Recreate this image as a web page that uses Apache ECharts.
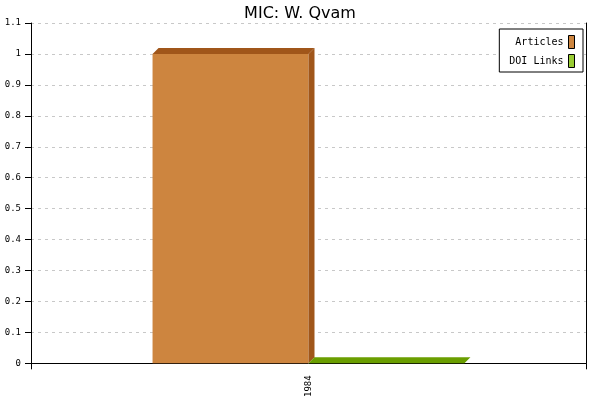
<!DOCTYPE html>
<html><head><meta charset="utf-8">
<script src="https://cdn.jsdelivr.net/npm/echarts@6/dist/echarts.min.js"></script>
<style>html,body{margin:0;padding:0;background:#fff}#c{width:600px;height:400px}</style>
</head><body><div id="c"></div>
<script>
var categories = ['1984'];
var articles = [1];
var doiLinks = [0];
var yTicks = [0, 0.1, 0.2, 0.3, 0.4, 0.5, 0.6, 0.7, 0.8, 0.9, 1, 1.1];

var chart = echarts.init(document.getElementById('c'));
var DEPTH = 6;
function make3d(frontColor, sideColor, topColor, offsetIdx) {
  return function (params, api) {
    var c = api.coord([api.value(0), api.value(1)]);
    var base = api.coord([api.value(0), 0]);
    var band = api.size([1, 0])[0];
    var w = band * 0.281;
    var x0 = offsetIdx === 0 ? c[0] - w : c[0];
    var x1 = x0 + w;
    var yt = c[1], yb = base[1];
    var d = DEPTH;
    var children = [];
    if (yb - yt > 0) {
      children.push({type: 'rect', shape: {x: x0, y: yt, width: w, height: yb - yt}, style: {fill: frontColor}});
    }
    children.push({type: 'polygon', shape: {points: [[x1, yt], [x1 + d, yt - d], [x1 + d, yb - d], [x1, yb]]}, style: {fill: sideColor}});
    children.push({type: 'polygon', shape: {points: [[x0, yt], [x0 + d, yt - d], [x1 + d, yt - d], [x1, yt]]}, style: {fill: topColor}});
    return {type: 'group', children: children};
  };
}

chart.setOption({
  animation: false,
  backgroundColor: '#fff',
  title: {text: 'MIC: W. Qvam', left: 'center', top: 1,
    textStyle: {fontFamily: 'DejaVu Sans', fontSize: 16, fontWeight: 'normal', color: '#000'}},
  legend: {
    right: 17, top: 29, orient: 'vertical', align: 'right',
    itemWidth: 6, itemHeight: 13, itemGap: 5,
    padding: [6, 8, 4, 10],
    borderColor: '#000', borderWidth: 1, backgroundColor: '#fff',
    textStyle: {fontFamily: 'DejaVu Sans Mono', fontSize: 10, color: '#000'},
    data: [
      {name: 'Articles', icon: 'rect', itemStyle: {color: '#CD853F', borderColor: '#000', borderWidth: 1}},
      {name: 'DOI Links', icon: 'rect', itemStyle: {color: '#99CC33', borderColor: '#000', borderWidth: 1}}
    ]
  },
  grid: {left: 31, right: 14, top: 23, bottom: 35, containLabel: false},
  xAxis: {
    type: 'category', data: categories, boundaryGap: true,
    axisLine: {show: true, lineStyle: {color: '#000', width: 1}},
    axisTick: {show: true, length: 6, alignWithLabel: false, lineStyle: {color: '#000'}},
    axisLabel: {rotate: 90, margin: 12, fontFamily: 'DejaVu Sans Mono', fontSize: 9, color: '#000'},
    splitLine: {show: false}
  },
  yAxis: [{
    type: 'value', min: 0, max: 1.1, interval: 0.1,
    axisLine: {show: true, lineStyle: {color: '#000', width: 1}},
    axisTick: {show: true, length: 6, lineStyle: {color: '#000'}},
    axisLabel: {margin: 10, fontFamily: 'DejaVu Sans Mono', fontSize: 9, color: '#000',
      formatter: function (v) { return String(Math.round(v * 10) / 10); }},
    splitLine: {show: true, lineStyle: {color: '#c8c8c8', type: [3, 4], width: 1}}
  }, {
    type: 'value', min: 0, max: 1.1, interval: 0.1, position: 'right',
    axisLine: {show: true, lineStyle: {color: '#000', width: 1}},
    axisTick: {show: false}, axisLabel: {show: false}, splitLine: {show: false}
  }],
  series: [
    {name: 'Articles', type: 'custom', itemStyle: {color: '#CD853F'},
      renderItem: make3d('#CD853F', '#A0561A', '#A0561A', 0),
      data: categories.map(function (c, i) { return [i, articles[i]]; })},
    {name: 'DOI Links', type: 'custom', itemStyle: {color: '#99CC33'},
      renderItem: make3d('#99CC33', '#6A9E00', '#6A9E00', 1),
      data: categories.map(function (c, i) { return [i, doiLinks[i]]; })}
  ]
});
</script></body></html>
